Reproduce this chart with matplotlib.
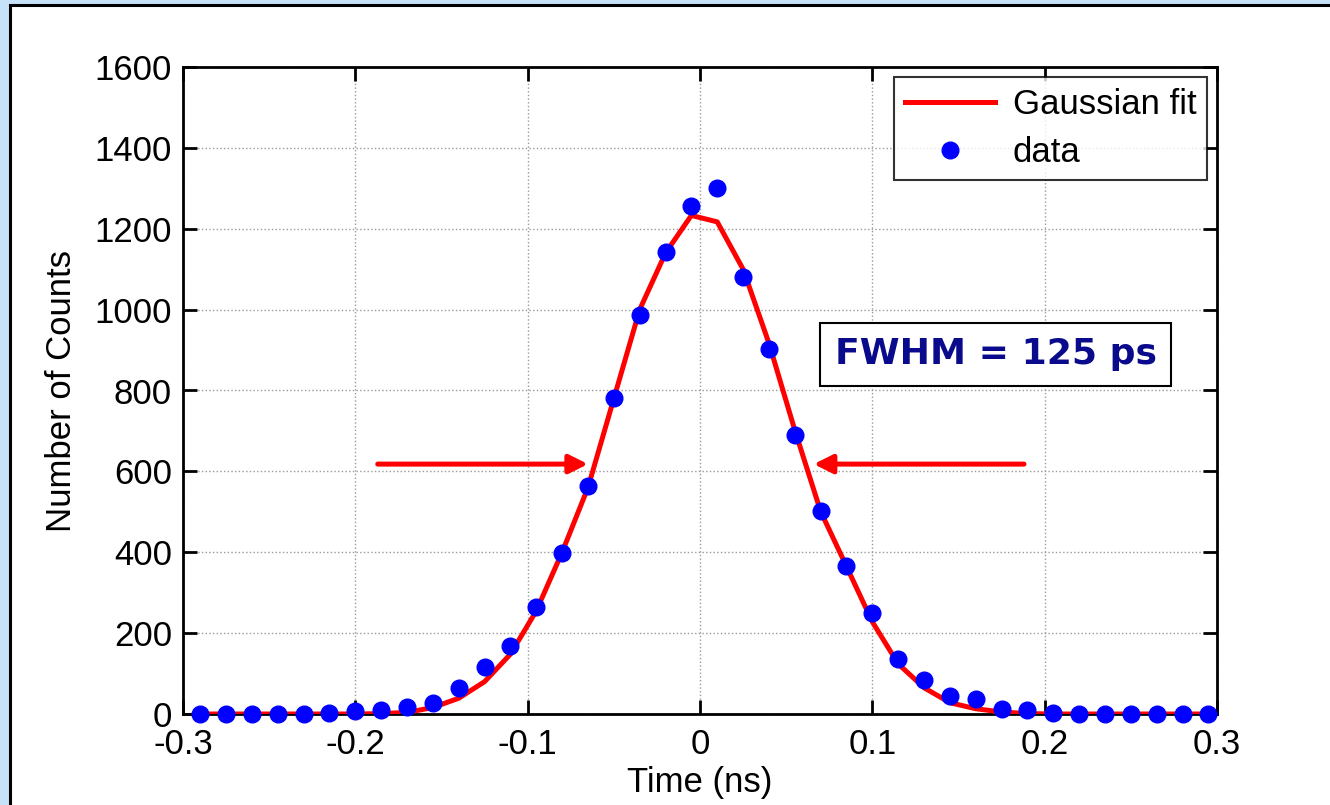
import numpy as np
import matplotlib
matplotlib.use('Agg')
import matplotlib.pyplot as plt
from matplotlib.patches import Rectangle

plt.rcParams['font.family'] = ['Liberation Sans', 'DejaVu Sans']

# Time bins (ns)
time_ns = [-0.290, -0.275, -0.260, -0.245, -0.230, -0.215, -0.200, -0.185,
           -0.170, -0.155, -0.140, -0.125, -0.110, -0.095, -0.080, -0.065,
           -0.050, -0.035, -0.020, -0.005, 0.010, 0.025, 0.040, 0.055,
           0.070, 0.085, 0.100, 0.115, 0.130, 0.145, 0.160, 0.175,
           0.190, 0.205, 0.220, 0.235, 0.250, 0.265, 0.280, 0.295]
# Measured counts
counts = [0, 0, 0, 0, 0, 2, 7, 10,
          18, 28, 65, 117, 169, 265, 399, 564,
          781, 987, 1142, 1257, 1300, 1080, 902, 690,
          502, 366, 250, 137, 84, 45, 37, 12,
          10, 2, 0, 0, 0, 0, 0, 0]
# Gaussian fit evaluated at the same bins
fit = [0, 0, 0, 0, 0, 0, 0, 1,
       4, 16, 39, 80, 148, 255, 400, 560,
       780, 1000, 1140, 1233, 1217, 1100, 917, 702,
       501, 365, 228, 124, 65, 28, 13, 5,
       1, 0, 0, 0, 0, 0, 0, 0]

# Half-maximum arrows (start, tip) and level
arrow_left = (-0.187, -0.065)
arrow_right = (0.188, 0.066)
arrow_y = 618

fig = plt.figure(figsize=(13.3, 8.05), dpi=100)
fig.patch.set_facecolor('#C6E2F8')
fig.patches.append(Rectangle((10 / 1330, -0.1), 1.2, 1.1 - 5 / 805,
                             transform=fig.transFigure, facecolor='white',
                             edgecolor='black', linewidth=2.2, zorder=-10))

ax = fig.add_axes([183 / 1330, 1 - 714 / 805, (1217 - 183) / 1330, (714 - 67) / 805])
ax.plot(time_ns, fit, color='red', lw=3.6, label='Gaussian fit', zorder=3)
ax.plot(time_ns, counts, 'o', color='blue', ms=12, mec='blue',
        label='data', zorder=4, clip_on=False)

for start, tip in [arrow_left, arrow_right]:
    ax.annotate('', xy=(tip, arrow_y), xytext=(start, arrow_y),
                arrowprops=dict(arrowstyle='-|>', color='red', lw=3.6,
                                mutation_scale=28, shrinkA=0, shrinkB=0),
                zorder=5)

ax.text(0.786, 0.556, 'FWHM = 125 ps', transform=ax.transAxes,
        fontsize=26, fontweight='bold', color='#0A0A8C', family='DejaVu Sans',
        ha='center', va='center', zorder=6,
        bbox=dict(boxstyle='square,pad=0.4', facecolor='white', edgecolor='black', lw=1.5))

ax.set_xlim(-0.3, 0.3)
ax.set_ylim(0, 1600)
ax.set_xticks([-0.3, -0.2, -0.1, 0, 0.1, 0.2, 0.3])
ax.set_xticklabels(['-0.3', '-0.2', '-0.1', '0', '0.1', '0.2', '0.3'])
ax.set_yticks(range(0, 1601, 200))
ax.tick_params(direction='in', length=10, width=2, labelsize=25,
               top=True, right=True, pad=8)
ax.tick_params(axis='x', pad=10)
ax.grid(True, linestyle=':', color='#9a9a9a', lw=1)
for s in ax.spines.values():
    s.set_linewidth(2)

ax.set_xlabel('Time (ns)', fontsize=25, labelpad=4)
ax.set_ylabel('Number of Counts', fontsize=25, labelpad=12)

leg = ax.legend(loc='upper right', fontsize=25, frameon=True, fancybox=False,
                edgecolor='black', handlelength=2.6, borderpad=0.3,
                labelspacing=0.45, borderaxespad=0.3, handletextpad=0.5)
leg.get_frame().set_linewidth(1.5)

fig.savefig('out.png', dpi=100, facecolor=fig.get_facecolor())
